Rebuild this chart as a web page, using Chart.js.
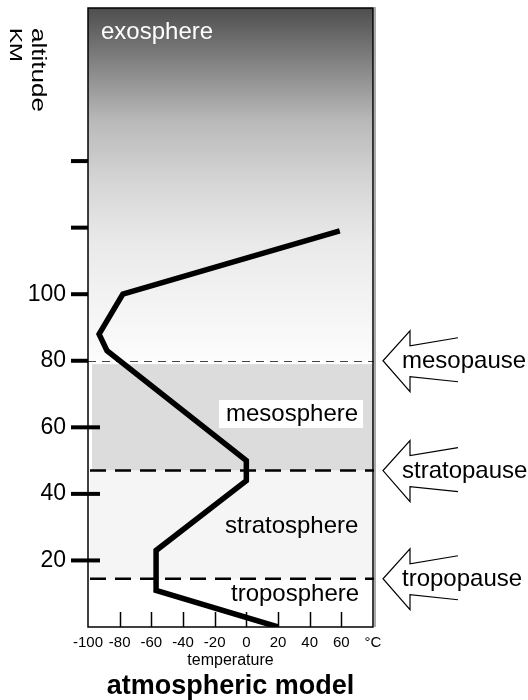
<!DOCTYPE html>
<html>
<head>
<meta charset="utf-8">
<script src="https://cdn.jsdelivr.net/npm/chart.js@4/dist/chart.umd.min.js"></script>
<style>
body { margin: 0; background: #fff; }
#wrap { width: 528px; height: 700px; }
</style>
</head>
<body>
<div id="wrap"><canvas id="myChart"></canvas></div>
<script>
// temperature profile
const temperatures = [20, -57, -57, 0, 0, -88, -93, -78, 59];
const altitudes = [0, 11, 23, 44, 50, 83, 88, 100, 119];

const tempTicks = [-100, -80, -60, -40, -20, 0, 20, 40, 60, 80];
const altTicks = [20, 40, 60, 80, 100, 120, 140];
const altLabels = ['20', '40', '60', '80', '100', '', ''];

const layerNames = ['troposphere', 'stratosphere', 'mesosphere', 'exosphere'];
const pauseNames = ['tropopause', 'stratopause', 'mesopause'];
const pauseAltitudes = [14.5, 47, 80];
const mesosphereTop = 79;

Chart.defaults.font.family = '"Liberation Sans", Arial, sans-serif';
Chart.defaults.color = '#000';

// draw text squeezed/stretched to a given width
function fitText(ctx, text, x, y, font, width) {
    ctx.font = font;
    const w = ctx.measureText(text).width;
    ctx.save();
    ctx.translate(x, y);
    ctx.scale(width / w, 1);
    ctx.fillText(text, 0, 0);
    ctx.restore();
}

const atmoPlugin = {
    id: 'atmo',
    beforeDatasetsDraw(chart) {
        const { ctx, chartArea: a, scales: { x, y } } = chart;
        const w = a.right - a.left;
        const yTropo = y.getPixelForValue(pauseAltitudes[0]);
        const yStrato = y.getPixelForValue(pauseAltitudes[1]);
        const yMeso = y.getPixelForValue(pauseAltitudes[2]);
        const yMesoTop = y.getPixelForValue(mesosphereTop);
        ctx.save();

        // exosphere gradient
        const g = ctx.createLinearGradient(0, a.top, 0, yMeso);
        g.addColorStop(0, '#4e4e4e');
        g.addColorStop(0.15, '#818181');
        g.addColorStop(0.32, '#b9b9b9');
        g.addColorStop(0.49, '#d5d5d5');
        g.addColorStop(0.66, '#e9e9e9');
        g.addColorStop(0.83, '#f3f3f3');
        g.addColorStop(1, '#fcfcfc');
        ctx.fillStyle = g;
        ctx.fillRect(a.left, a.top, w, yMeso - a.top);

        // mesosphere and stratosphere bands
        ctx.fillStyle = '#dcdcdc';
        ctx.fillRect(a.left + 4, yMesoTop, w - 4, yStrato - yMesoTop);
        ctx.fillStyle = '#f5f5f5';
        ctx.fillRect(a.left + 2, yStrato, w - 2, yTropo - yStrato);

        // inner x ticks
        ctx.strokeStyle = '#000';
        ctx.lineWidth = 1.5;
        tempTicks.slice(1, -1).forEach(v => {
            const px = Math.round(x.getPixelForValue(v)) + 0.5;
            ctx.beginPath();
            ctx.moveTo(px, a.bottom);
            ctx.lineTo(px, a.bottom - 15);
            ctx.stroke();
        });

        // mesopause thin dashed line
        ctx.strokeStyle = '#444';
        ctx.lineWidth = 1;
        ctx.setLineDash([8, 6]);
        ctx.beginPath();
        ctx.moveTo(a.left, Math.round(yMeso) + 0.5);
        ctx.lineTo(a.right + 2, Math.round(yMeso) + 0.5);
        ctx.stroke();

        // stratopause / tropopause thick dashed lines
        ctx.strokeStyle = '#000';
        ctx.lineWidth = 2.5;
        ctx.setLineDash([16, 9]);
        [yStrato, yTropo].forEach(py => {
            ctx.beginPath();
            ctx.moveTo(a.left + 2, py);
            ctx.lineTo(a.right + 2, py);
            ctx.stroke();
        });
        ctx.setLineDash([]);

        // plot frame
        ctx.fillStyle = '#aaa';
        ctx.fillRect(a.right + 1, a.top - 1, 2, a.bottom - a.top + 1);
        ctx.strokeStyle = '#000';
        ctx.lineWidth = 1.5;
        ctx.strokeRect(a.left, a.top, w, a.bottom - a.top);
        ctx.restore();
    },
    afterDatasetsDraw(chart) {
        const { ctx, chartArea: a, scales: { y } } = chart;
        ctx.save();

        // y ticks
        ctx.strokeStyle = '#000';
        ctx.lineWidth = 4;
        altTicks.forEach(v => {
            const py = y.getPixelForValue(v);
            ctx.beginPath();
            ctx.moveTo(a.left - 17, py);
            ctx.lineTo(v < 80 ? a.left + 12 : a.left, py);
            ctx.stroke();
        });

        // layer labels
        ctx.textAlign = 'left';
        ctx.textBaseline = 'alphabetic';
        ctx.font = '24px "Liberation Sans", Arial, sans-serif';
        ctx.fillStyle = '#000';
        ctx.fillText(layerNames[0], 231, 601);
        ctx.fillText(layerNames[1], 225, 533);
        const mw = ctx.measureText(layerNames[2]).width;
        ctx.fillStyle = '#fff';
        ctx.fillRect(219, 400, mw + 12, 28);
        ctx.fillStyle = '#000';
        ctx.fillText(layerNames[2], 226, 421);
        ctx.fillStyle = '#fff';
        ctx.fillText(layerNames[3], 101, 39);

        // pause arrows
        ctx.fillStyle = '#000';
        ctx.strokeStyle = '#000';
        ctx.lineWidth = 1.2;
        pauseAltitudes.forEach((alt, i) => {
            const tx = a.right + 10;
            const ty = y.getPixelForValue(alt);
            ctx.beginPath();
            ctx.moveTo(tx + 75, ty - 23);
            ctx.lineTo(tx + 27, ty - 15);
            ctx.lineTo(tx + 27, ty - 30);
            ctx.lineTo(tx, ty);
            ctx.lineTo(tx + 27, ty + 31);
            ctx.lineTo(tx + 27, ty + 16);
            ctx.lineTo(tx + 75, ty + 21);
            ctx.stroke();
            ctx.fillText(pauseNames[i], tx + 19, ty + 7);
        });

        // axis titles and chart title
        const cx = (a.left + a.right) / 2;
        ctx.textAlign = 'center';
        ctx.font = '16px "Liberation Sans", Arial, sans-serif';
        ctx.fillText('temperature', cx, 665);
        ctx.font = 'bold 27px "Liberation Sans", Arial, sans-serif';
        ctx.fillText('atmospheric model', cx, 694);

        ctx.textAlign = 'left';
        ctx.save();
        ctx.translate(32, 28);
        ctx.rotate(Math.PI / 2);
        fitText(ctx, 'altitude', 0, 0, '21px "Liberation Sans", Arial, sans-serif', 84);
        ctx.restore();
        ctx.save();
        ctx.translate(10, 28);
        ctx.rotate(Math.PI / 2);
        fitText(ctx, 'KM', 0, 0, '16px "Liberation Sans", Arial, sans-serif', 34);
        ctx.restore();

        ctx.restore();
    }
};

new Chart(document.getElementById('myChart'), {
    type: 'scatter',
    data: {
        datasets: [{
            data: temperatures.map((t, i) => ({ x: t, y: altitudes[i] })),
            showLine: true,
            borderColor: '#000',
            borderWidth: 5.5,
            borderJoinStyle: 'miter',
            pointRadius: 0,
            tension: 0,
            fill: false
        }]
    },
    options: {
        responsive: true,
        maintainAspectRatio: false,
        animation: false,
        layout: { padding: { top: 8, right: 155, left: 0, bottom: 0 } },
        plugins: { legend: { display: false }, tooltip: { enabled: false } },
        scales: {
            x: {
                type: 'linear',
                min: -100,
                max: 80,
                afterBuildTicks: s => { s.ticks = tempTicks.map(v => ({ value: v })); },
                afterFit: s => { s.height = 73; s.paddingLeft = 0; s.paddingRight = 0; },
                grid: { display: false, drawTicks: false },
                border: { display: false },
                ticks: {
                    padding: 7,
                    maxRotation: 0,
                    autoSkip: false,
                    font: { size: 15 },
                    callback: v => (v === 80 ? '°C' : String(v))
                }
            },
            y: {
                type: 'linear',
                min: 0,
                max: 186,
                afterBuildTicks: s => { s.ticks = altTicks.map(v => ({ value: v })); },
                afterFit: s => { s.width = 88; s.paddingTop = 0; s.paddingBottom = 0; },
                grid: { display: false, drawTicks: false },
                border: { display: false },
                ticks: {
                    padding: 22,
                    autoSkip: false,
                    font: { size: 23 },
                    callback: v => altLabels[altTicks.indexOf(v)]
                }
            }
        }
    },
    plugins: [atmoPlugin]
});
</script>
</body>
</html>
